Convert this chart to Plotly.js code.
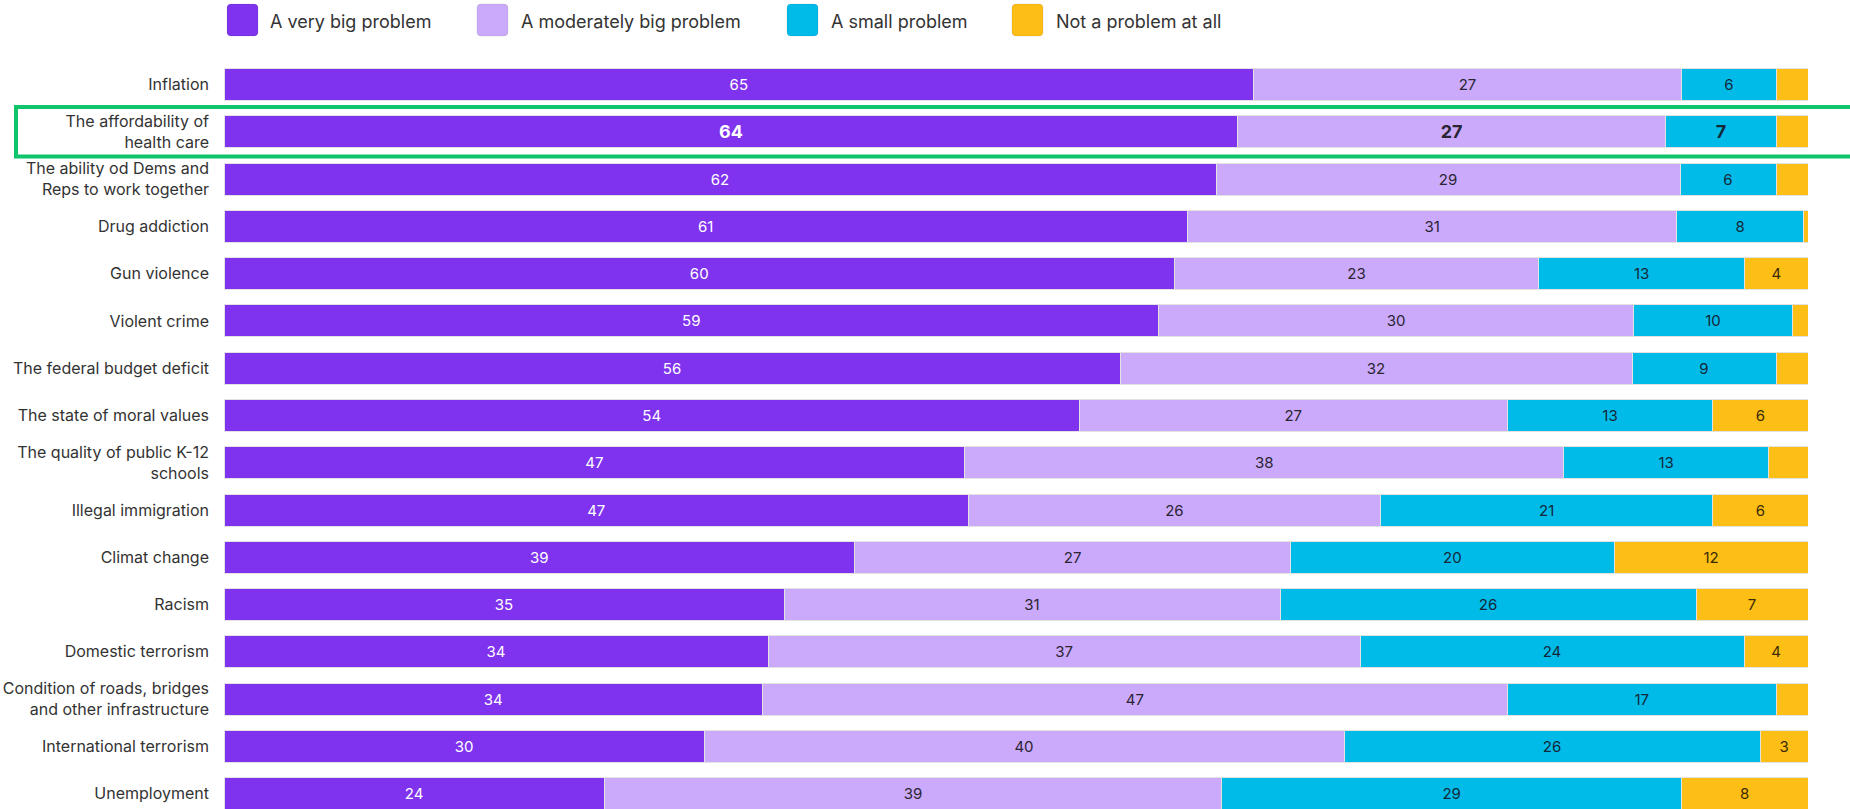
<!DOCTYPE html>
<html>
<head>
<meta charset="utf-8">
<script src="https://cdn.plot.ly/plotly-3.0.1.min.js"></script>
<style>html,body{margin:0;padding:0;background:#fff;}#chart{width:1850px;height:809px;}</style>
</head>
<body>
<div id="chart"></div>
<script>
const categories = [
  "Inflation",
  "The affordability of<br>health care",
  "The ability od Dems and<br>Reps to work together",
  "Drug addiction",
  "Gun violence",
  "Violent crime",
  "The federal budget deficit",
  "The state of moral values",
  "The quality of public K-12<br>schools",
  "Illegal immigration",
  "Climat change",
  "Racism",
  "Domestic terrorism",
  "Condition of roads, bridges<br>and other infrastructure",
  "International terrorism",
  "Unemployment"
];
const seriesNames = ["A very big problem", "A moderately big problem", "A small problem", "Not a problem at all"];
const veryBig  = [65, 64, 62, 61, 60, 59, 56, 54, 47, 47, 39, 35, 34, 34, 30, 24];
const moderate = [27, 27, 29, 31, 23, 30, 32, 27, 38, 26, 27, 31, 37, 47, 40, 39];
const small    = [6, 7, 6, 8, 13, 10, 9, 13, 13, 21, 20, 26, 24, 17, 26, 29];
const notAtAll = [2, 2, 2, 0.3, 4, 1, 2, 6, 2.5, 6, 12, 7, 4, 2, 3, 8];
const highlightIndex = 1;

const colors = ["#7f33ee", "#cbaafc", "#00bbe8", "#fdbf16"];
const textColors = ["#ffffff", "#2a2433", "#13283a", "#3a2a05"];
const seriesValues = [veryBig, moderate, small, notAtAll];

// Layout geometry (pixels)
const W = 1850, H = 809;
const mL = 224, mR = 42, mT = 61, mB = 0;
const plotW = W - mL - mR, plotH = H - mT - mB;
const pitch = 47.27;
const px2x = px => (px - mL) / plotW;
const px2y = py => (H - mB - py) / plotH;

const traces = seriesValues.map((vals, s) => ({
  type: "bar",
  orientation: "h",
  name: seriesNames[s],
  y: categories,
  x: vals,
  text: vals.map(v => (v >= 3 ? String(v) : "")),
  texttemplate: "%{text}",
  textposition: "inside",
  insidetextanchor: "middle",
  textangle: 0,
  constraintext: "none",
  cliponaxis: true,
  textfont: {
    family: "Inter, sans-serif",
    color: textColors[s],
    size: vals.map((v, i) => (i === highlightIndex ? 18 : 15)),
    weight: vals.map((v, i) => (i === highlightIndex ? 700 : 400))
  },
  marker: { color: colors[s], line: { color: "#e2e2e2", width: 1 } },
  hoverinfo: "skip",
  showlegend: false
}));

function roundRect(w, h, r) {
  const a = w / 2, b = h / 2;
  return `M ${-a + r},${-b} L ${a - r},${-b} Q ${a},${-b} ${a},${-b + r} L ${a},${b - r} Q ${a},${b} ${a - r},${b} L ${-a + r},${b} Q ${-a},${b} ${-a},${b - r} L ${-a},${-b + r} Q ${-a},${-b} ${-a + r},${-b} Z`;
}

const legendSwatchX = [242.5, 492.5, 802.5, 1027.5];
const legendTextX = [268, 519, 829, 1054];
const legendY = 20;

const shapes = legendSwatchX.map((cx, i) => ({
  type: "path",
  xref: "paper", yref: "paper",
  xsizemode: "pixel", ysizemode: "pixel",
  xanchor: px2x(cx), yanchor: px2y(legendY),
  path: roundRect(31, 32, 4),
  fillcolor: colors[i],
  line: { color: "rgba(0,0,0,0.08)", width: 1 },
  layer: "above"
}));

// highlight box around the highlighted row
shapes.push({
  type: "rect",
  xref: "paper", yref: "paper",
  x0: px2x(16), x1: px2x(1880),
  y0: px2y(156.5), y1: px2y(107),
  line: { color: "#0fc56b", width: 4 },
  fillcolor: "rgba(0,0,0,0)",
  layer: "above"
});

const annotations = seriesNames.map((n, i) => ({
  xref: "paper", yref: "paper",
  x: px2x(legendTextX[i]), y: px2y(legendY + 1),
  xanchor: "left", yanchor: "middle",
  text: n, showarrow: false,
  font: { family: "Inter, sans-serif", size: 18, color: "#333333" }
}));

const yBottom = -0.5 + plotH / pitch;

const layout = {
  width: W, height: H,
  margin: { l: mL, r: mR, t: mT, b: mB, pad: 0 },
  paper_bgcolor: "#ffffff",
  plot_bgcolor: "#ffffff",
  barmode: "stack",
  barnorm: "percent",
  bargap: 0.323,
  showlegend: false,
  font: { family: "Inter, sans-serif", size: 16, color: "#333333" },
  xaxis: { range: [0, 100], visible: false, fixedrange: true },
  yaxis: {
    type: "category",
    range: [yBottom, -0.5],
    showgrid: false, zeroline: false, showline: false,
    ticks: "",
    ticklabelstandoff: 14,
    tickfont: { family: "Inter, sans-serif", size: 16, color: "#333333" },
    fixedrange: true
  },
  shapes: shapes,
  annotations: annotations
};

Plotly.newPlot("chart", traces, layout, { displayModeBar: false, staticPlot: true });
</script>
</body>
</html>
